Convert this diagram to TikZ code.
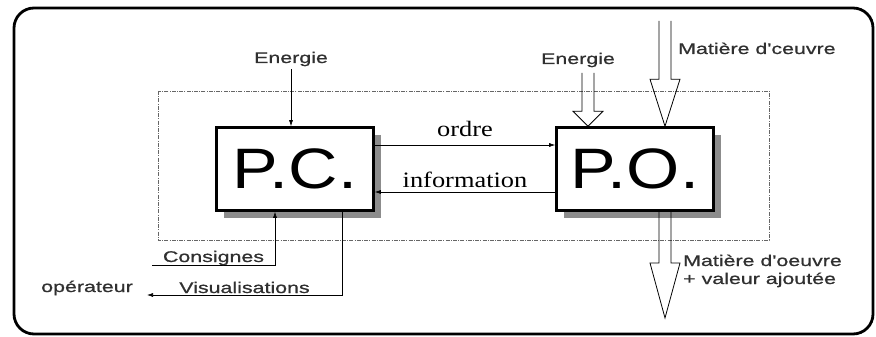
\documentclass[tikz,border=0pt]{standalone}
\usepackage{fontspec}
\newfontfamily\lblfont[FakeStretch=1.38,FakeBold=0.8]{Liberation Sans}
\newfontfamily\serfont[FakeStretch=1.2]{Liberation Serif}
\newfontfamily\boxfont[FakeStretch=1.2]{Liberation Sans}
\usetikzlibrary{arrows.meta,calc,positioning,shadows}
\definecolor{lblgray}{HTML}{303030}
\newcommand{\blockarrow}[3]{% start, tip, head length
  \draw [black, line width=0.8pt, line join=miter]
    ($(#1)+(-6,0)$) -- ($(#2)+(-6,-#3)$) -- ($(#2)+(-15,-#3)$) -- (#2)
    -- ($(#2)+(15,-#3)$) -- ($(#2)+(6,-#3)$) -- ($(#1)+(6,0)$);}
\begin{document}
\begin{tikzpicture}[x=1pt, y=-1pt,
    lbl/.style={font=\lblfont\fontsize{15.5}{18}\selectfont, text=lblgray},
    ser/.style={font=\serfont\fontsize{22}{24}\selectfont, text=black},
    sig/.style={black, line width=0.6pt, -{Latex[length=6pt,width=4pt]}},
    part/.style={draw=black, line width=2.6pt, fill=white, minimum width=157pt,
      minimum height=83pt, font=\boxfont\fontsize{57}{60}\selectfont,
      drop shadow={shadow xshift=7pt, shadow yshift=-7pt, fill=black!45, opacity=1}}]
    \tikzstyle{every node}+=[inner sep=0pt]
    \useasboundingbox (0,0) rectangle (876,337);
    \draw [black, line width=2.8pt, rounded corners=20pt] (14,8) rectangle (873,334);
    \draw [black!60, line width=0.6pt, dash pattern=on 4pt off 1.2pt on 1pt off 1.2pt] (158,91) rectangle (769,240);
    % the two parts
    \node [part] (pc) at (295,169) {P.C.};
    \node [part] (po) at (635,169) {P.O.};
    % labels
    \node [lbl, anchor=base] (enpc) at (291,63) {Energie};
    \node [lbl, anchor=base] (enpo) at (578,64) {Energie};
    \node [lbl, anchor=base west] (matinl) at (678,54) {Matière d'ceuvre};
    \node [lbl, anchor=base west] (matouta) at (683,266) {Matière d'oeuvre};
    \node [lbl, anchor=base west] (matoutb) at (683,284) {+ valeur ajoutée};
    \node [lbl, anchor=base east] (oper) at (133,292) {opérateur};
    \coordinate (ordy) at (0,145);
    \coordinate (infy) at (0,192);
    \coordinate (consin) at (152,265);
    \coordinate (visend) at (147,295);
    \coordinate (enpoin) at (588,73);
    \coordinate (matin) at (665,21);
    \coordinate (matout) at (665,318);
    % signals
    \draw [sig] ([yshift=-3pt]enpc.south) -- (enpc.south |- pc.north);
    \draw [sig] (pc.east |- ordy) -- (po.west |- ordy) node [midway, above=8pt, ser] {ordre};
    \draw [sig] (po.west |- infy) -- (pc.east |- infy) node [midway, above=4pt, ser] {information};
    \draw [sig] (consin) -| ([xshift=-20pt]pc.south) node [pos=0.25, anchor=base, yshift=3pt, lbl] {Consignes};
    \draw [sig] ([xshift=47pt]pc.south) |- (visend) node [pos=0.75, anchor=base, yshift=2pt, lbl] {Visualisations};
    % block arrows
    \blockarrow{enpoin}{enpoin |- po.north}{15}
    \blockarrow{matin}{matin |- po.north}{47}
    \blockarrow{matout |- po.south}{matout}{55}
\end{tikzpicture}
\end{document}
